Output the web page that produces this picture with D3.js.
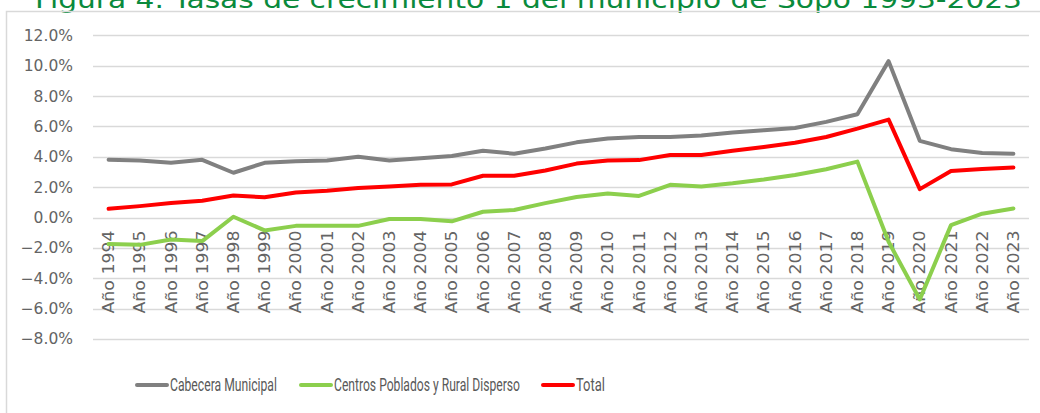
<!DOCTYPE html>
<html>
<head>
<meta charset="utf-8">
<script src="https://cdn.jsdelivr.net/npm/d3@7"></script>
<style>
  body { margin: 0; background: #fff; }
  svg { display: block; }
</style>
</head>
<body>
<svg id="chart"></svg>
<script>
// Data (percent values)
const years = d3.range(1994, 2024).map(y => "Año " + y);
const cabecera = [3.8, 3.75, 3.6, 3.8, 2.95, 3.6, 3.7, 3.75, 4.0, 3.75, 3.9, 4.05, 4.4, 4.2, 4.55, 4.95, 5.2, 5.3, 5.3, 5.4, 5.6, 5.75, 5.9, 6.3, 6.8, 10.3, 5.05, 4.5, 4.25, 4.2];
const centros = [-1.75, -1.8, -1.45, -1.55, 0.05, -0.85, -0.55, -0.55, -0.55, -0.1, -0.1, -0.25, 0.38, 0.5, 0.95, 1.35, 1.58, 1.42, 2.15, 2.05, 2.25, 2.5, 2.8, 3.18, 3.68, -1.6, -5.4, -0.5, 0.25, 0.6];
const total = [0.58, 0.75, 0.95, 1.1, 1.45, 1.33, 1.65, 1.77, 1.95, 2.05, 2.15, 2.18, 2.75, 2.75, 3.1, 3.55, 3.75, 3.78, 4.12, 4.12, 4.4, 4.65, 4.92, 5.3, 5.85, 6.45, 1.87, 3.07, 3.2, 3.3];
const yTicks = [-8, -6, -4, -2, 0, 2, 4, 6, 8, 10, 12];
const seriesNames = ["Cabecera Municipal", "Centros Poblados y Rural Disperso", "Total"];
const seriesColors = ["#808080", "#8ccf4d", "#ff0000"];
const titleText = "Figura 4. Tasas de crecimiento 1 del municipio de Sopó 1993-2023";

const W = 1040, H = 413;
const svg = d3.select("#chart").attr("width", W).attr("height", H);

// title (partly cut off at the top, as in the reference)
svg.append("text")
  .attr("x", 35).attr("y", 8)
  .attr("fill", "#0a8a3c")
  .style("font-family", "DejaVu Sans, Verdana, sans-serif")
  .style("font-size", "24px")
  .attr("textLength", 987)
  .attr("lengthAdjust", "spacingAndGlyphs")
  .text(titleText);

// chart area border (left + top only visible)
svg.append("path")
  .attr("d", "M6.5," + H + "V11.5H" + W)
  .attr("fill", "none")
  .attr("stroke", "#d9d9d9")
  .attr("stroke-width", 1.5);

const x = d3.scaleBand().domain(years).range([93, 1029]);
const y = d3.scaleLinear().domain([-8, 12]).range([339, 35.3]);

// gridlines
svg.append("g")
  .selectAll("line")
  .data(yTicks)
  .join("line")
  .attr("x1", 93).attr("x2", 1029)
  .attr("y1", d => Math.round(y(d)) + 0.5)
  .attr("y2", d => Math.round(y(d)) + 0.5)
  .attr("stroke", "#d9d9d9")
  .attr("stroke-width", 1.3);

// y axis labels
const yAxis = d3.axisLeft(y).tickValues(yTicks).tickSize(0).tickPadding(0)
  .tickFormat(d => d3.format(".1f")(d) + "%");
svg.append("g")
  .attr("transform", "translate(73,0)")
  .call(yAxis)
  .call(g => g.select(".domain").remove())
  .call(g => g.selectAll("text")
    .attr("fill", "#646464")
    .style("font-family", "DejaVu Sans, Verdana, sans-serif")
    .style("font-size", "15.5px"));

// x axis labels rotated, sitting just under the 0% line
const xAxis = d3.axisBottom(x).tickSize(0).tickPadding(0);
svg.append("g")
  .attr("transform", "translate(0," + y(0) + ")")
  .call(xAxis)
  .call(g => g.select(".domain").remove())
  .call(g => g.selectAll("text")
    .attr("fill", "#646464")
    .style("font-family", "DejaVu Sans, Verdana, sans-serif")
    .style("font-size", "16px")
    .attr("textLength", 83)
    .attr("lengthAdjust", "spacingAndGlyphs")
    .attr("text-anchor", "end")
    .attr("dy", "0.35em")
    .attr("transform", "translate(0,13) rotate(-90)"));

// lines
const allSeries = [cabecera, centros, total];
const line = d3.line()
  .x((d, i) => x(years[i]) + x.bandwidth() / 2)
  .y(d => y(d));

svg.append("g")
  .selectAll("path")
  .data(allSeries)
  .join("path")
  .attr("d", d => line(d))
  .attr("fill", "none")
  .attr("stroke", (d, i) => seriesColors[i])
  .attr("stroke-width", 4)
  .attr("stroke-linejoin", "round")
  .attr("stroke-linecap", "round");

// legend - text squeezed horizontally to match the narrow font of the original
const legendX = [137, 301, 543];
const legendW = [107, 186, 29];
const legend = svg.append("g").attr("transform", "translate(0,385)");
const item = legend.selectAll("g")
  .data(seriesNames)
  .join("g")
  .attr("transform", (d, i) => "translate(" + legendX[i] + ",0)");
item.append("line")
  .attr("x1", 0).attr("x2", 30)
  .attr("stroke", (d, i) => seriesColors[i])
  .attr("stroke-width", 4)
  .attr("stroke-linecap", "round");
item.append("text")
  .attr("dy", "0.35em")
  .attr("fill", "#595959")
  .style("font-family", "Liberation Sans Narrow, Roboto, sans-serif")
  .style("font-size", "17.5px")
  .text(d => d)
  .attr("transform", function (d, i) {
    const w = this.getComputedTextLength();
    return "translate(33,0) scale(" + (legendW[i] / w) + ",1)";
  });
</script>
</body>
</html>
